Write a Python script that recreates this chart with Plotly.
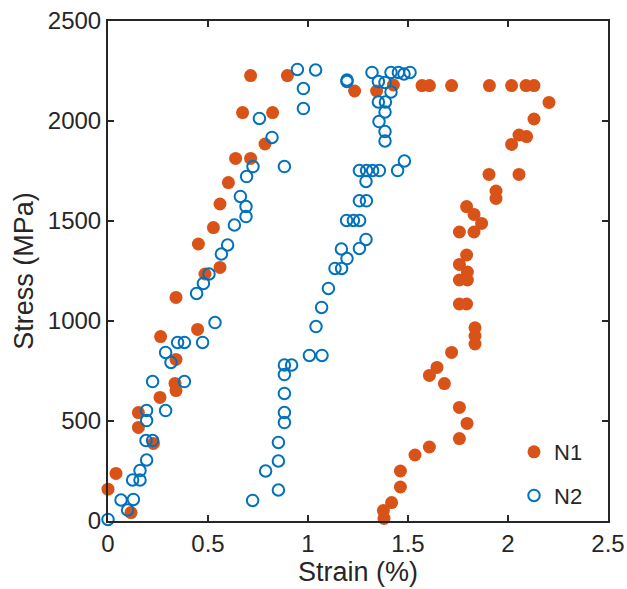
import plotly.graph_objects as go

n1_strain = [0.00, 0.04, 0.115, 0.152, 0.152, 0.227, 0.26, 0.335, 0.34, 0.34, 0.263, 0.448, 0.34,
             0.485, 0.56, 0.452, 0.527, 0.56, 0.602, 0.638, 0.713, 0.785, 0.673, 0.823, 0.713, 0.897,
             1.233, 1.343, 1.427, 1.57, 1.607, 1.718, 1.907, 2.018, 2.09, 2.13, 2.205, 2.13, 2.055,
             2.093, 2.018, 1.905, 2.055, 1.94, 1.94, 1.793, 1.83, 1.868, 1.757, 1.83, 1.793, 1.757,
             1.797, 1.757, 1.797, 1.757, 1.793, 1.835, 1.835, 1.835, 1.718, 1.645, 1.607, 1.682,
             1.757, 1.795, 1.757, 1.607, 1.535, 1.462, 1.462, 1.418, 1.377, 1.38]
n1_stress = [159, 238, 42, 542, 468, 388, 618, 688, 652, 808, 922, 958, 1118,
             1235, 1268, 1385, 1467, 1585, 1692, 1813, 1813, 1885, 2042, 2042, 2227, 2227,
             2150, 2150, 2180, 2177, 2177, 2177, 2177, 2177, 2177, 2177, 2093, 2010, 1930,
             1922, 1883, 1733, 1733, 1650, 1613, 1572, 1533, 1488, 1445, 1445, 1330, 1283,
             1245, 1205, 1205, 1085, 1085, 966, 925, 885, 843, 768, 728, 687,
             568, 488, 412, 370, 330, 250, 170, 92, 52, 13]

n2_strain = [0.0, 0.065, 0.127, 0.098, 0.123, 0.16, 0.16, 0.193, 0.19, 0.223, 0.193, 0.193, 0.288,
             0.223, 0.382, 0.315, 0.288, 0.348, 0.382, 0.473, 0.535, 0.443, 0.477, 0.505, 0.567,
             0.598, 0.632, 0.69, 0.69, 0.662, 0.693, 0.725, 0.882, 0.82, 0.757, 0.947, 0.977, 0.977,
             1.038, 1.195, 1.195, 1.32, 1.352, 1.385, 1.415, 1.452, 1.48, 1.51, 1.415, 1.352, 1.387,
             1.385, 1.355, 1.385, 1.385, 1.257, 1.293, 1.323, 1.357, 1.448, 1.482, 1.29, 1.257,
             1.292, 1.193, 1.227, 1.258, 1.29, 1.257, 1.167, 1.195, 1.135, 1.168, 1.102, 1.068,
             1.04, 1.007, 1.07, 0.882, 0.918, 0.882, 0.882, 0.882, 0.882, 0.852, 0.852, 0.788,
             0.852, 0.723]
n2_stress = [8, 105, 108, 55, 205, 205, 252, 305, 402, 402, 502, 552, 552,
             697, 697, 793, 843, 893, 893, 893, 992, 1138, 1188, 1235, 1335,
             1380, 1480, 1522, 1572, 1623, 1722, 1772, 1772, 1918, 2013, 2258, 2162, 2062,
             2255, 2205, 2197, 2243, 2197, 2193, 2243, 2243, 2235, 2243, 2145, 2095, 2095,
             2045, 1997, 1947, 1900, 1752, 1752, 1752, 1752, 1752, 1800, 1698, 1601,
             1601, 1503, 1503, 1503, 1408, 1363, 1360, 1312, 1263, 1263, 1163, 1068,
             972, 828, 828, 780, 780, 732, 638, 542, 492, 393, 300, 250,
             155, 103]

x_ticks = [0, 0.5, 1, 1.5, 2, 2.5]
x_tick_labels = ["0", "0.5", "1", "1.5", "2", "2.5"]
y_ticks = [0, 500, 1000, 1500, 2000, 2500]
y_tick_labels = ["0", "500", "1000", "1500", "2000", "2500"]

fig = go.Figure()
fig.add_trace(go.Scatter(
    x=n1_strain, y=n1_stress, mode="markers", name="N1", legendgroup="n1",
    marker=dict(symbol="circle", size=13, color="#D95319", line=dict(width=0)),
    cliponaxis=False,
))
fig.add_trace(go.Scatter(
    x=n2_strain, y=n2_stress, mode="markers", name="N2", legendgroup="n2",
    marker=dict(symbol="circle-open", size=11.5, color="#0072BD", line=dict(width=2, color="#0072BD")),
    cliponaxis=False,
))

axis_common = dict(
    showgrid=False, zeroline=False, showline=True, linecolor="#262626", linewidth=2,
    mirror="allticks", ticks="inside", ticklen=6, tickwidth=2, tickcolor="#262626",
    automargin=False,
    tickfont=dict(family="Liberation Sans, Arial, sans-serif", size=24, color="#262626"),
)

fig.update_layout(
    width=627, height=589,
    margin=dict(l=108, r=19, t=21, b=68),
    paper_bgcolor="white", plot_bgcolor="white",
    font=dict(family="Liberation Sans, Arial, sans-serif", color="#262626"),
    xaxis=dict(range=[0, 2.5], tickvals=x_ticks, ticktext=x_tick_labels,
               title=dict(text="Strain (%)", font=dict(size=27), standoff=1), **axis_common),
    yaxis=dict(range=[0, 2500], tickvals=y_ticks, ticktext=y_tick_labels,
               title=dict(text="Stress (MPa)", font=dict(size=27), standoff=6), **axis_common),
    showlegend=True,
    legend=dict(x=0.812, y=0.18, xanchor="left", yanchor="top", bgcolor="rgba(0,0,0,0)",
                font=dict(size=22, color="#262626"), tracegroupgap=12),
)

fig.write_html("out.html", config={"displayModeBar": False},
               post_script="document.body.style.margin='0';document.body.style.overflow='hidden';")
